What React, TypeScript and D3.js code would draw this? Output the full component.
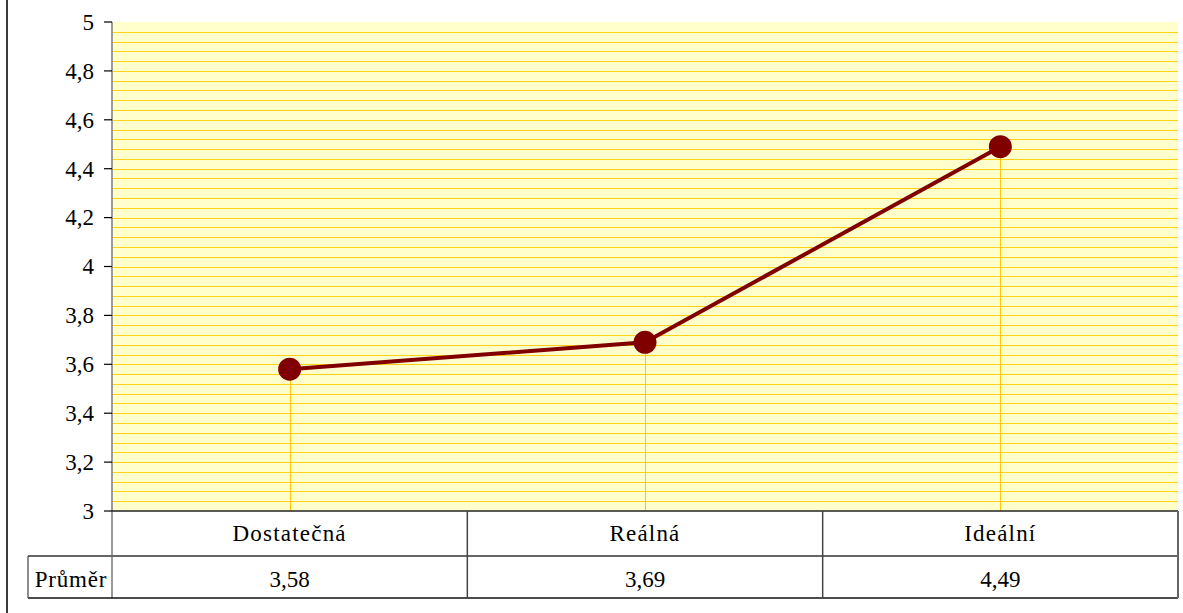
import React from "react";
import * as d3 from "d3";

// Chart data
const categories = ["Dostatečná", "Reálná", "Ideální"];
const averages = [3.58, 3.69, 4.49];
const rowLabel = "Průměr";
const yTicks = [3, 3.2, 3.4, 3.6, 3.8, 4, 4.2, 4.4, 4.6, 4.8, 5];
const gridStep = 0.04;

const W = 1183;
const H = 613;
const plotLeft = 112;
const plotRight = 1178;
const plotTop = 22;
const plotBottom = 511;
const rowMid = 556;
const tableBottom = 598;
const labelCellLeft = 28;

const czFormat = d3.formatLocale({
  decimal: ",",
  thousands: " ",
  grouping: [3],
  currency: ["", " Kč"],
});
const fmtTick = czFormat.format("~g");
const fmtVal = czFormat.format(".2f");

function Label(props: {
  x: number;
  y: number;
  anchor: "start" | "middle" | "end";
  dy?: string;
  spacing?: number;
  children: React.ReactNode;
}) {
  return (
    <text
      x={props.x}
      y={props.y}
      dy={props.dy}
      textAnchor={props.anchor}
      style={{
        font: "23px Times New Roman, Liberation Serif, Tinos, serif",
        letterSpacing: props.spacing ? `${props.spacing}px` : undefined,
      }}
      fill="#000"
    >
      {props.children}
    </text>
  );
}

export default function App() {
  const y = d3.scaleLinear().domain([3, 5]).range([plotBottom, plotTop]);
  const x = d3
    .scaleBand<string>()
    .domain(categories)
    .range([plotLeft, plotRight])
    .padding(0);
  const cx = (c: string) => (x(c) ?? 0) + x.bandwidth() / 2;

  const gridValues = d3
    .range(1, Math.round(2 / gridStep))
    .map((i) => 3 + i * gridStep);

  const points = categories.map((c, i) => [cx(c), y(averages[i])] as [number, number]);
  const line = d3.line()(points) ?? "";

  return (
    <svg
      width={W}
      height={H}
      style={{ position: "absolute", left: 0, top: 0, background: "#fff" }}
    >
      {/* left frame edge */}
      <line x1={7} x2={7} y1={0} y2={H} stroke="#3a3a3a" strokeWidth={2} />

      {/* plot background */}
      <rect
        x={plotLeft}
        y={plotTop}
        width={plotRight - plotLeft}
        height={plotBottom - plotTop}
        fill="#FFFFCC"
      />

      {/* horizontal gridlines */}
      <g shapeRendering="crispEdges">
        {gridValues.map((v, i) => (
          <line
            key={i}
            x1={plotLeft}
            x2={plotRight}
            y1={Math.round(y(v)) + 0.5}
            y2={Math.round(y(v)) + 0.5}
            stroke="#FFD21A"
            strokeWidth={1}
          />
        ))}
      </g>

      {/* drop lines from points to axis */}
      <g shapeRendering="crispEdges">
        {categories.map((c, i) => (
          <line
            key={c}
            x1={Math.round(cx(c)) + 0.5}
            x2={Math.round(cx(c)) + 0.5}
            y1={y(averages[i])}
            y2={plotBottom}
            stroke="#FFC800"
            strokeWidth={1.5}
          />
        ))}
      </g>

      {/* y axis */}
      <line x1={plotLeft} x2={plotLeft} y1={plotTop} y2={tableBottom} stroke="#7a7a7a" strokeWidth={1.5} />
      {yTicks.map((t) => (
        <g key={t}>
          <line x1={plotLeft - 8} x2={plotLeft} y1={y(t)} y2={y(t)} stroke="#000" strokeWidth={1.2} />
          <Label x={94} y={y(t)} dy="0.34em" anchor="end">
            {fmtTick(t)}
          </Label>
        </g>
      ))}

      {/* data table */}
      <g>
        <line x1={plotLeft} x2={plotRight} y1={plotBottom} y2={plotBottom} stroke="#222" strokeWidth={1.5} />
        <line x1={labelCellLeft} x2={plotRight} y1={rowMid} y2={rowMid} stroke="#666" strokeWidth={2} />
        <line x1={labelCellLeft} x2={plotRight} y1={tableBottom} y2={tableBottom} stroke="#111" strokeWidth={1.5} />
        <line x1={labelCellLeft} x2={labelCellLeft} y1={rowMid} y2={tableBottom} stroke="#444" strokeWidth={1.2} />
        {categories.slice(1).map((c) => (
          <line
            key={c}
            x1={x(c)}
            x2={x(c)}
            y1={plotBottom}
            y2={tableBottom}
            stroke="#444"
            strokeWidth={1.5}
          />
        ))}
        <line x1={plotRight} x2={plotRight} y1={plotBottom} y2={tableBottom} stroke="#666" strokeWidth={2} />

        {categories.map((c, i) => (
          <g key={c}>
            <Label x={cx(c)} y={541} anchor="middle" spacing={1.2}>
              {c}
            </Label>
            <Label x={cx(c)} y={587} anchor="middle">
              {fmtVal(averages[i])}
            </Label>
          </g>
        ))}
        <Label x={(labelCellLeft + plotLeft) / 2 + 1} y={587} anchor="middle" spacing={0.8}>
          {rowLabel}
        </Label>
      </g>

      {/* series line and markers */}
      <path d={line} fill="none" stroke="#800000" strokeWidth={4} />
      {points.map(([px, py], i) => (
        <circle key={i} cx={px} cy={py} r={11.5} fill="#800000" />
      ))}
    </svg>
  );
}
